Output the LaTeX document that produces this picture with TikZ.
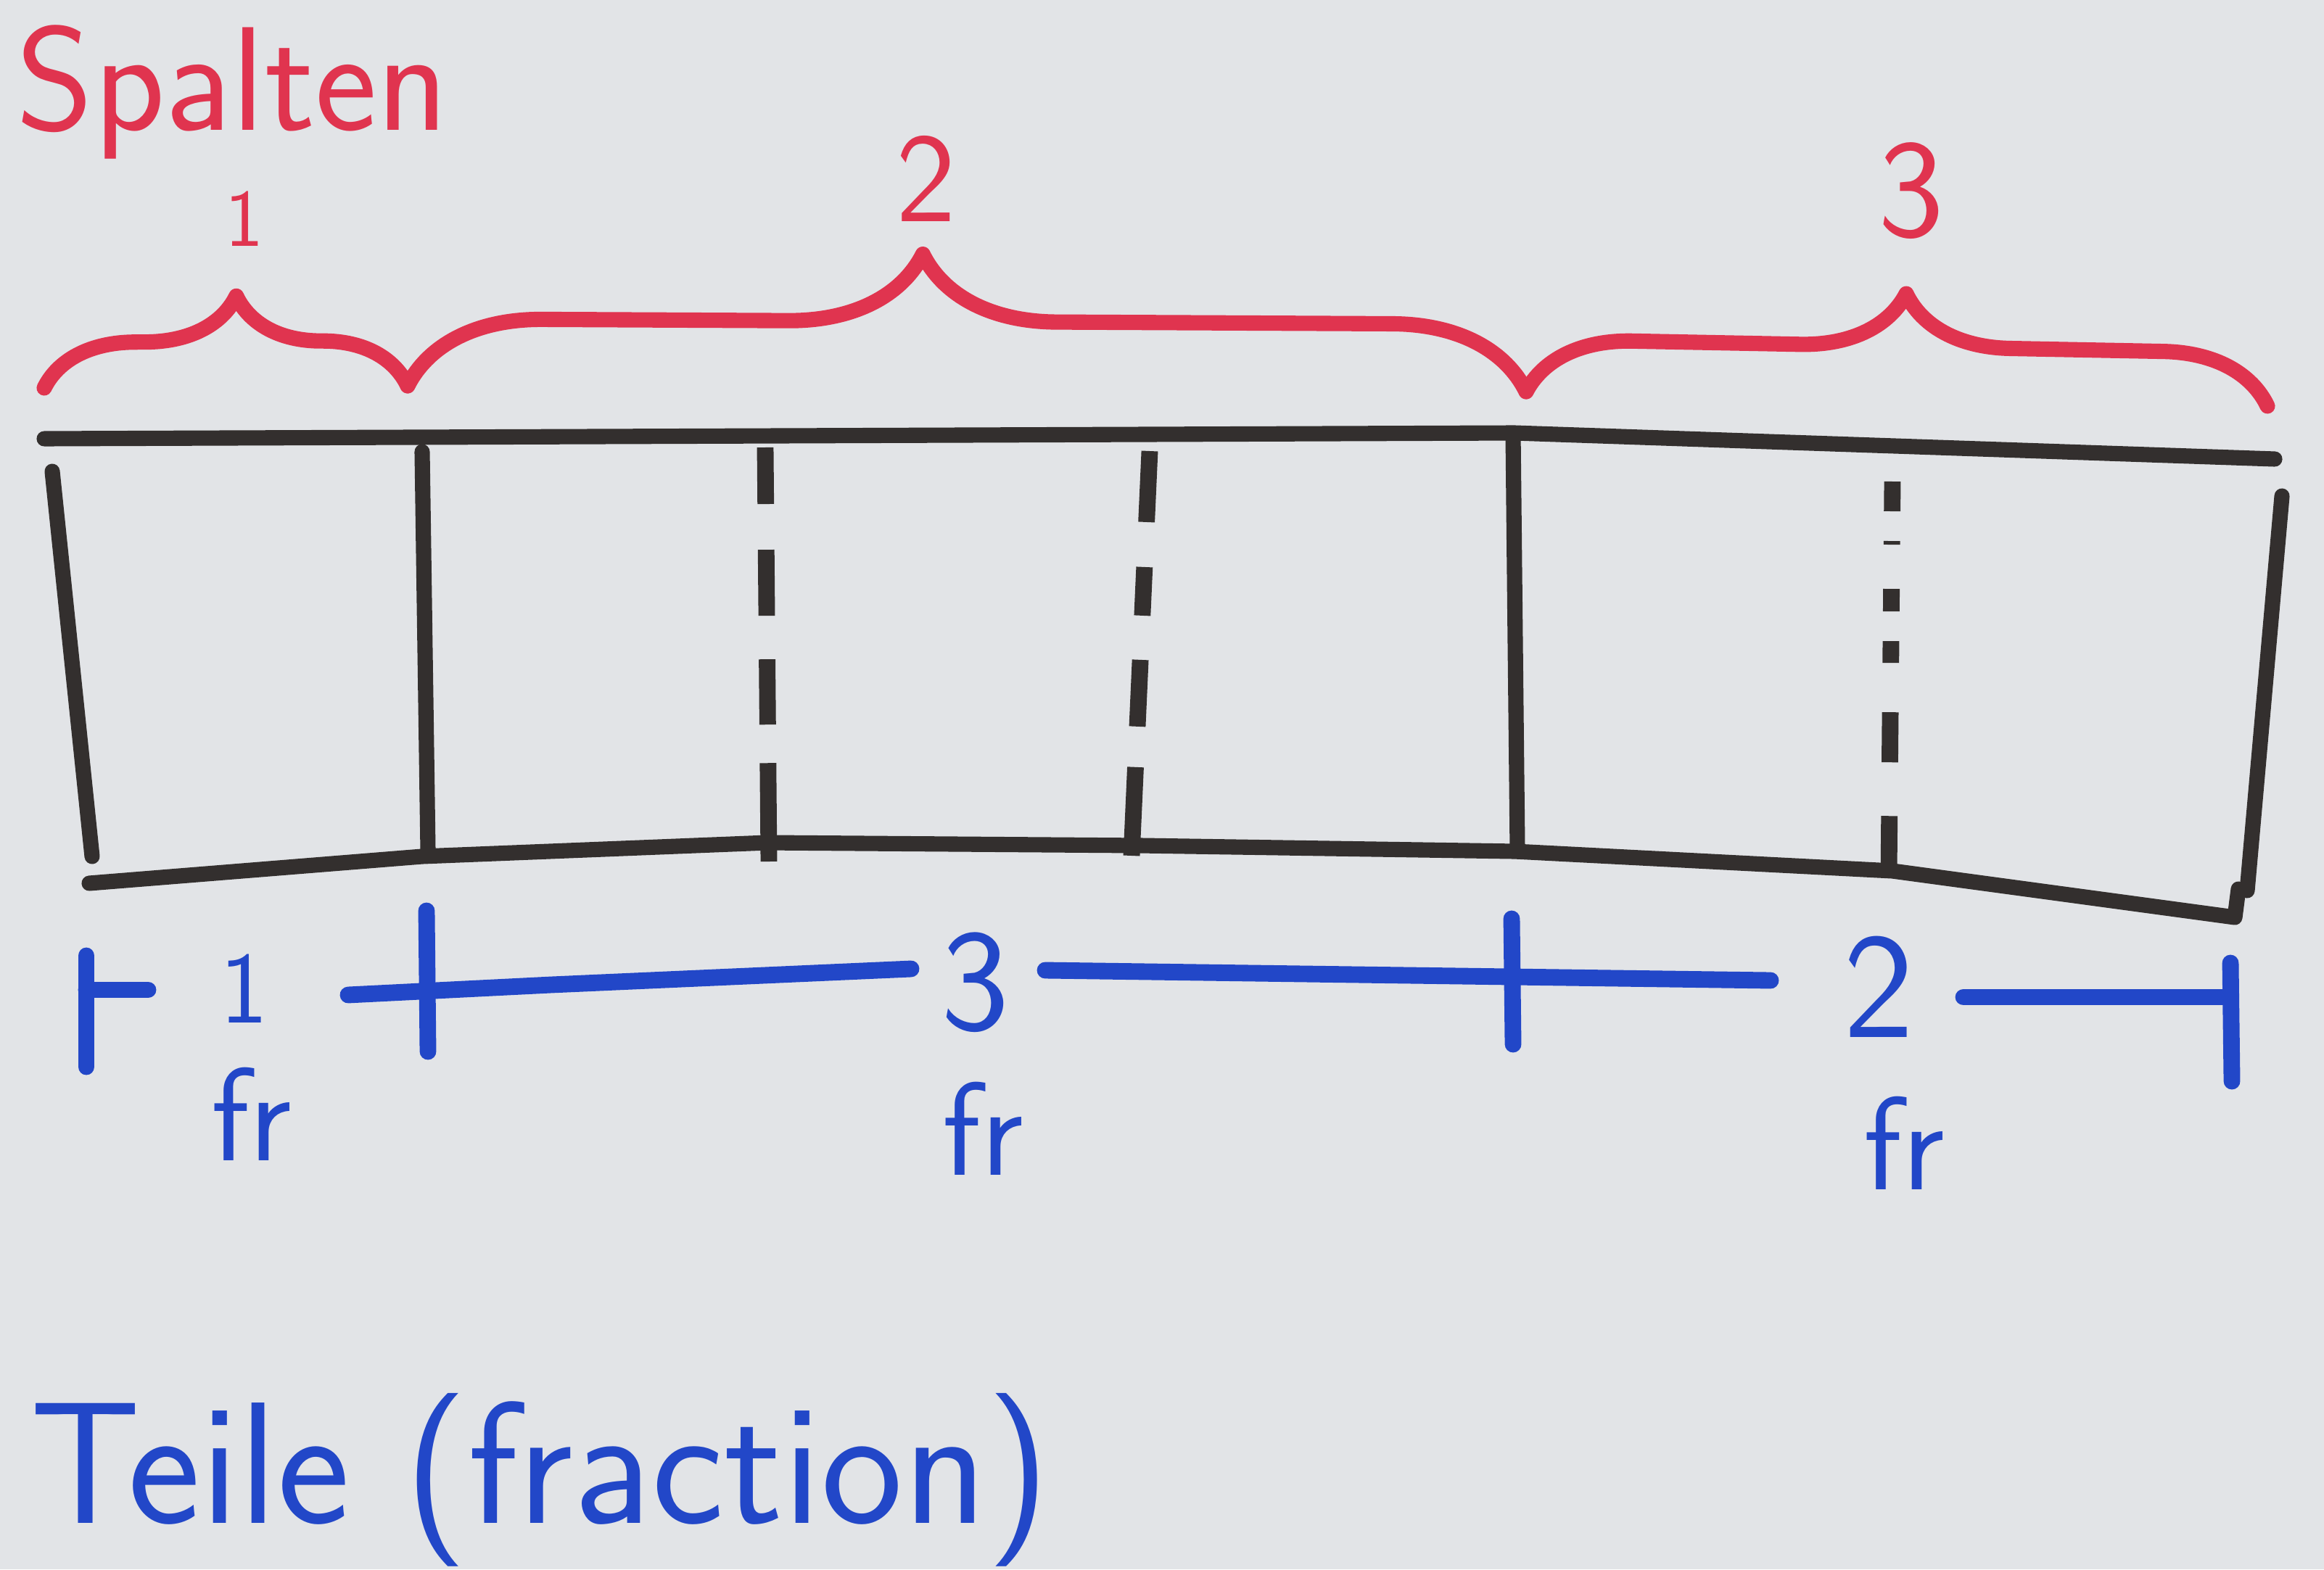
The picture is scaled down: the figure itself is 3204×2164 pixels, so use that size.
\documentclass[tikz,border=0pt]{standalone}
\usepackage{fontspec}
\usetikzlibrary{decorations.pathreplacing}
\definecolor{board}{HTML}{E2E4E7}
\definecolor{ink}{HTML}{332F2E}
\definecolor{redink}{HTML}{E0344F}
\definecolor{blueink}{HTML}{2247C8}
\newcommand{\fsz}[1]{\sffamily\fontsize{#1}{#1}\selectfont}
\begin{document}
\begin{tikzpicture}[x=0.01cm,y=-0.01cm,line cap=round,line join=round,
  pen/.style={draw=ink,line width=6pt},
  dashpen/.style={draw=ink,line width=6.5pt,line cap=butt},
  redpen/.style={draw=redink,line width=6pt},
  bluepen/.style={draw=blueink,line width=6.5pt},
  redlabel/.style={text=redink,inner sep=0pt,anchor=base},
  bluelabel/.style={text=blueink,inner sep=0pt,anchor=base}]
\fill[board] (0,0) rectangle (3204,2164);
\useasboundingbox (0,0) rectangle (3204,2164);

% ---------- red header ----------
\node[redlabel,anchor=base west,font=\fsz{58pt}\addfontfeatures{LetterSpace=3}] (spalten) at (22,180) {Spalten};

\coordinate (b0) at (61,535);
\coordinate (b1) at (562,532);
\coordinate (b2) at (2104,540);
\coordinate (b3) at (3126,560);
\draw[redpen,decorate,decoration={brace,amplitude=1.25cm,aspect=0.53}] (b0) -- (b1);
\draw[redpen,decorate,decoration={brace,amplitude=1.85cm,aspect=0.46}] (b1) -- (b2);
\draw[redpen,decorate,decoration={brace,amplitude=1.45cm,aspect=0.51}] (b2) -- (b3);
\node[redlabel,font=\fsz{32pt}] (r1) at (337,340) {1};
\node[redlabel,font=\fsz{50pt}] (r2) at (1277,306) {2};
\node[redlabel,font=\fsz{55pt}] (r3) at (2635,327) {3};

% ---------- black grid ----------
\coordinate (TL) at (61,605);
\coordinate (TM) at (2088,597);
\coordinate (TR) at (3136,633);
\coordinate (LT) at (72,650);
\coordinate (LB) at (127,1181);
\coordinate (BL) at (123,1218);
\coordinate (B1) at (582,1181);
\coordinate (B2) at (1058,1162);
\coordinate (B3) at (1573,1166);
\coordinate (B4) at (2088,1174);
\coordinate (B5) at (2609,1201);
\coordinate (BR) at (3081,1265);
\coordinate (BRh) at (3086,1226);
\coordinate (RT) at (3146,684);
\coordinate (RB) at (3098,1228);
\draw[pen] (TL) -- (TM) -- (TR);
\draw[pen] (LT) -- (LB);
\draw[pen] (BL) -- (B1) -- (B2) -- (B3) -- (B4) -- (B5) -- (BR) -- (BRh);
\draw[pen] (RT) -- (RB);

\coordinate (V1t) at (582,623);  \coordinate (V1b) at (590,1172);
\coordinate (V2t) at (1055,617); \coordinate (V2b) at (1060,1188);
\coordinate (V3t) at (1585,622); \coordinate (V3b) at (1560,1180);
\coordinate (V4t) at (2086,600); \coordinate (V4b) at (2092,1172);
\coordinate (V5t) at (2609,664); \coordinate (V5b) at (2604,1205);
\draw[pen] (V1t) -- (V1b);
\draw[pen] (V4t) -- (V4b);
\draw[dashpen,dash pattern=on 0.78cm off 0.63cm on 0.91cm off 0.6cm on 0.9cm off 0.53cm on 1.4cm] (V2t) -- (V2b);
\draw[dashpen,dash pattern=on 0.98cm off 0.62cm on 0.67cm off 0.61cm on 0.92cm off 0.56cm on 1.3cm] (V3t) -- (V3b);
\draw[dashpen,dash pattern=on 0.41cm off 0.41cm on 0.05cm off 0.61cm on 0.31cm off 0.41cm on 0.3cm off 0.68cm on 0.69cm off 0.74cm on 0.9cm] (V5t) -- (V5b);

% ---------- blue dimension line ----------
\coordinate (T0a) at (119,1318); \coordinate (T0b) at (119,1471);
\coordinate (T1a) at (588,1256); \coordinate (T1b) at (590,1450);
\coordinate (T2a) at (2084,1267); \coordinate (T2b) at (2086,1440);
\coordinate (T3a) at (3075,1328); \coordinate (T3b) at (3077,1491);
\draw[bluepen] (T0a) -- (T0b);
\draw[bluepen] (T1a) -- (T1b);
\draw[bluepen] (T2a) -- (T2b);
\draw[bluepen] (T3a) -- (T3b);

\node[bluelabel,font=\fsz{40pt}] (n1) at (337,1410) {1};
\node[bluelabel,font=\fsz{57pt}] (n3) at (1345,1420) {3};
\node[bluelabel,font=\fsz{59pt}] (n2) at (2590,1430) {2};

\coordinate (s0a) at (119,1365); \coordinate (s0b) at (204,1365);
\coordinate (s1a) at (480,1372); \coordinate (s1m) at (760,1358); \coordinate (s1b) at (1256,1336);
\coordinate (s2a) at (1441,1338); \coordinate (s2b) at (2441,1352);
\coordinate (s3a) at (2707,1375); \coordinate (s3b) at (3075,1375);
\draw[bluepen] (s0a) -- (s0b);
\draw[bluepen] (s1a) -- (s1m) -- (s1b);
\draw[bluepen] (s2a) -- (s2b);
\draw[bluepen] (s3a) -- (s3b);

\node[bluelabel,font=\fsz{52pt}] (f1) at (347,1600) {fr};
\node[bluelabel,font=\fsz{52pt}] (f3) at (1355,1620) {fr};
\node[bluelabel,font=\fsz{52pt}] (f2) at (2625,1640) {fr};

% ---------- bottom caption ----------
\node[bluelabel,anchor=base west,font=\fsz{68pt}\addfontfeatures{LetterSpace=4}] (teile) at (41,2100) {Teile (fraction)};
\end{tikzpicture}
\end{document}
